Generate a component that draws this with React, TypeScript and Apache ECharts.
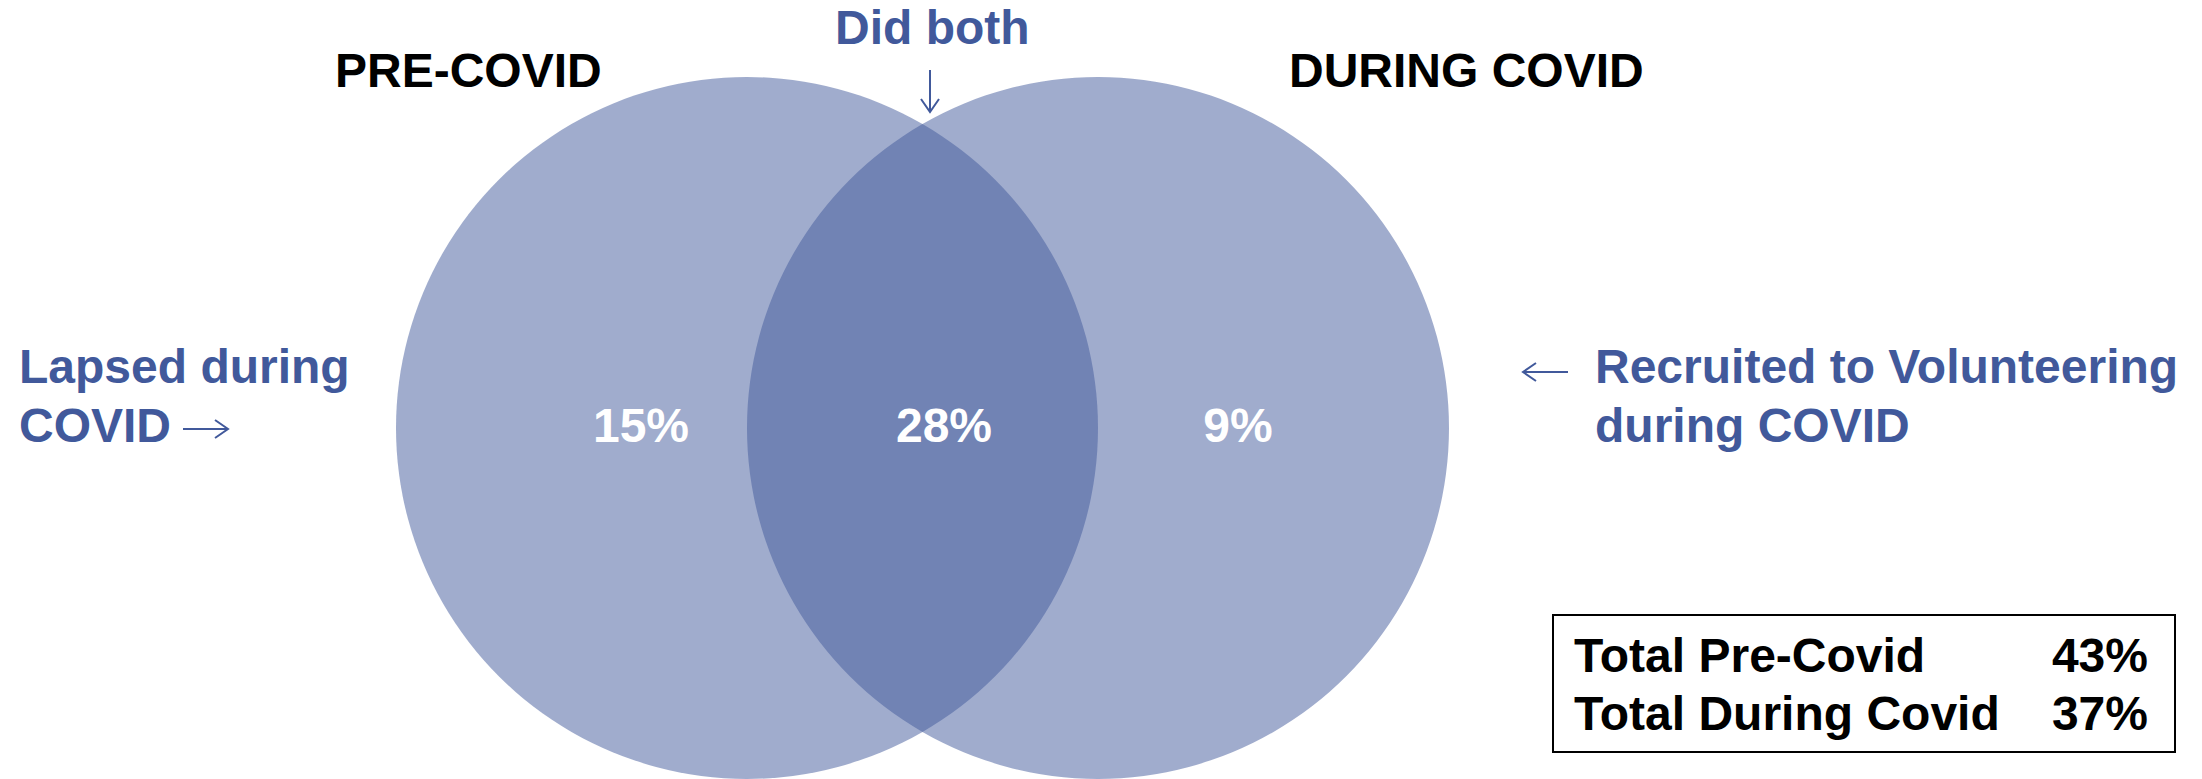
import React, { useEffect, useRef } from "react";
import * as echarts from "echarts";

// ---- data ----
const setNames = ["PRE-COVID", "DURING COVID"];
const regionNames = ["Lapsed during COVID", "Did both", "Recruited to Volunteering during COVID"];
const regionValues = [15, 28, 9];
const totalLabels = ["Total Pre-Covid", "Total During Covid"];
const totalValues = [43, 37];

// ---- layout (pixel units of the hidden axes) ----
const W = 2202;
const H = 779;
const CIRCLE_CX = [747, 1098];
const CIRCLE_CY = 428;
const CIRCLE_R = 351;
const REGION_X = [641, 944, 1238];
const REGION_Y = 425;

const FONT = '"Liberation Sans", Arial, sans-serif';
const BLUE = "#41599b";
const FS = 48;

function arrow(x1: number, y1: number, x2: number, y2: number) {
  const dx = x2 - x1;
  const dy = y2 - y1;
  const len = Math.sqrt(dx * dx + dy * dy);
  const ux = dx / len;
  const uy = dy / len;
  const hl = 13;
  const hw = 9;
  const bx = x2 - ux * hl;
  const by = y2 - uy * hl;
  return [
    { type: "line", shape: { x1, y1, x2, y2 }, style: { stroke: BLUE, lineWidth: 2 } },
    {
      type: "polyline",
      shape: { points: [[bx - uy * hw, by + ux * hw], [x2, y2], [bx + uy * hw, by - ux * hw]] },
      style: { stroke: BLUE, lineWidth: 2, fill: "none" },
    },
  ];
}

export default function App() {
  const ref = useRef<HTMLDivElement>(null);
  useEffect(() => {
    if (!ref.current) return;
    const chart = echarts.init(ref.current, null, { renderer: "svg" });
    const option: any = {
      animation: false,
      backgroundColor: "#ffffff",
      grid: { left: 0, right: 0, top: 0, bottom: 0 },
      xAxis: { type: "value", min: 0, max: W, show: false },
      yAxis: { type: "value", min: 0, max: H, inverse: true, show: false },
      series: [
        {
          type: "custom",
          name: "sets",
          data: setNames.map((n, i) => ({ name: n, value: [CIRCLE_CX[i], CIRCLE_CY, CIRCLE_R] })),
          renderItem: (params: any, api: any) => {
            const c = api.coord([api.value(0), api.value(1)]);
            const r = api.size([api.value(2), 0])[0];
            return {
              type: "circle",
              shape: { cx: c[0], cy: c[1], r },
              style: { fill: "rgba(65,89,155,0.5)" },
            };
          },
          z: 1,
        },
        {
          type: "scatter",
          name: "regions",
          symbolSize: 1,
          itemStyle: { color: "rgba(0,0,0,0)", opacity: 1 },
          data: regionValues.map((v, i) => ({ name: regionNames[i], value: [REGION_X[i], REGION_Y, v] })),
          label: {
            show: true,
            position: "inside",
            formatter: (p: any) => `${p.value[2]}%`,
            color: "#ffffff",
            opacity: 1,
            fontFamily: FONT,
            fontWeight: "bold",
            fontSize: FS,
          },
          z: 5,
        },
      ],
      graphic: [
        // set titles
        { type: "text", x: 335, y: 70, style: { text: setNames[0], font: `bold ${FS}px ${FONT}`, fill: "#000", verticalAlign: "middle" } },
        { type: "text", x: 1289, y: 70, style: { text: setNames[1], font: `bold ${FS}px ${FONT}`, fill: "#000", verticalAlign: "middle" } },
        // Did both
        { type: "text", x: 835, y: 27, style: { text: "Did both", font: `bold ${FS}px ${FONT}`, fill: BLUE, verticalAlign: "middle" } },
        ...arrow(930, 70, 930, 112),
        // Lapsed
        { type: "text", x: 19, y: 366, style: { text: "Lapsed during", font: `bold ${FS}px ${FONT}`, fill: BLUE, verticalAlign: "middle" } },
        { type: "text", x: 19, y: 425, style: { text: "COVID", font: `bold ${FS}px ${FONT}`, fill: BLUE, verticalAlign: "middle" } },
        ...arrow(183, 429, 228, 429),
        // Recruited
        ...arrow(1568, 372, 1523, 372),
        { type: "text", x: 1595, y: 366, style: { text: "Recruited to Volunteering", font: `bold ${FS}px ${FONT}`, fill: BLUE, verticalAlign: "middle" } },
        { type: "text", x: 1595, y: 425, style: { text: "during COVID", font: `bold ${FS}px ${FONT}`, fill: BLUE, verticalAlign: "middle" } },
        // totals box
        { type: "rect", shape: { x: 1553, y: 615, width: 622, height: 137 }, style: { fill: "#fff", stroke: "#000", lineWidth: 2 }, z: 10 },
        ...totalLabels.flatMap((t, i) => [
          { type: "text", x: 1574, y: 655 + i * 58, z: 11, style: { text: t, font: `bold ${FS}px ${FONT}`, fill: "#000", verticalAlign: "middle" } },
          { type: "text", x: 2148, y: 655 + i * 58, z: 11, style: { text: `${totalValues[i]}%`, font: `bold ${FS}px ${FONT}`, fill: "#000", align: "right", verticalAlign: "middle" } },
        ]),
      ],
    };
    chart.setOption(option);
    return () => chart.dispose();
  }, []);
  return <div ref={ref} style={{ position: "fixed", left: 0, top: 0, width: W, height: H }} />;
}
